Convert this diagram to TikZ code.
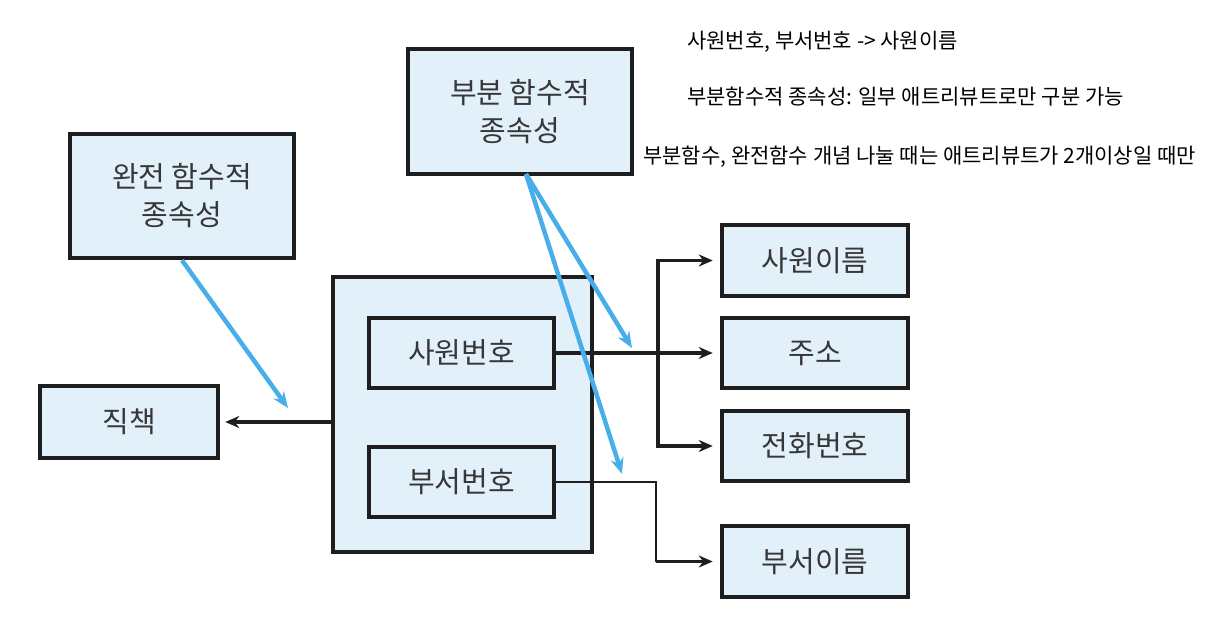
\documentclass[tikz,border=0pt]{standalone}
\usepackage{fontspec}
\setmainfont{Noto Sans CJK KR}
\usetikzlibrary{arrows.meta}
\definecolor{boxfill}{RGB}{226,240,250}
\definecolor{bluearr}{RGB}{72,174,234}
\definecolor{ink}{RGB}{30,30,30}
\definecolor{txt}{RGB}{55,55,55}
\begin{document}
\begin{tikzpicture}[x=1pt,y=-1pt,
  box/.style={draw=ink, line width=4.5pt, fill=boxfill, inner sep=0pt, font=\fontsize{29}{38}\selectfont, text=txt, align=center},
  keybox/.style={draw=ink, line width=3.5pt, fill=boxfill, inner sep=0pt},
  blk/.style={draw=ink, line width=3.5pt, -{Stealth[length=14pt,width=12pt]}},
  thinl/.style={draw=ink, line width=1.8pt},
  blu/.style={draw=bluearr, line width=4.5pt, -{Stealth[length=16pt,width=13pt]}},
  note/.style={anchor=west, inner sep=0pt, font=\fontsize{21}{26}\selectfont, text=black}]
\useasboundingbox (0,0) rectangle (1208,624);
% annotations
\node[note] (n1) at (687,42) {사원번호, 부서번호 -> 사원이름};
\node[note] (n2) at (687,97) {부분함수적 종속성: 일부 애트리뷰트로만 구분 가능};
\node[note] (n3) at (643,157) {부분함수, 완전함수 개념 나눌 때는 애트리뷰트가 2개이상일 때만};
% boxes
\node[box, minimum width=224, minimum height=125] (partial) at (520,111.5) {부분 함수적\\종속성};
\node[box, minimum width=224, minimum height=124] (full) at (182,196) {완전 함수적\\종속성};
\node[box, minimum width=178, minimum height=72] (jik) at (129,422) {직책};
\node[keybox, minimum width=259, minimum height=275] (key) at (462.5,414.5) {};
\node[box, minimum width=185, minimum height=70] (empno) at (461.5,353) {사원번호};
\node[box, minimum width=185, minimum height=70] (deptno) at (461.5,482) {부서번호};
\node[box, minimum width=186, minimum height=71] (name) at (815,260.5) {사원이름};
\node[box, minimum width=186, minimum height=70] (addr) at (815,353) {주소};
\node[box, minimum width=186, minimum height=70] (phone) at (815,446) {전화번호};
\node[box, minimum width=186, minimum height=71] (dname) at (815,561.5) {부서이름};
% black connectors
\draw[blk, shorten >=7pt] (empno.east) -- (addr.west);
\coordinate (bj) at (658,353);
\draw[blk, shorten >=7pt] (bj) |- (name.west);
\draw[blk, shorten >=7pt] (bj) |- (phone.west);
\coordinate (dj) at (656,482);
\draw[thinl] (deptno.east) -- (dj) -- (dj |- dname.west);
\draw[blk, shorten >=7pt] (dj |- dname.west) -- (dname.west);
\draw[blk, shorten >=5pt] (jik.east -| key.west) -- (jik.east);
% blue arrows
\coordinate (b1) at (288,408);
\coordinate (b2) at (632,348);
\coordinate (b3) at (622,474);
\coordinate (ps) at (526,174);
\draw[blu] (full.south) -- (b1);
\draw[blu] (ps) -- (b2);
\draw[blu] (ps) -- (b3);
\end{tikzpicture}
\end{document}
